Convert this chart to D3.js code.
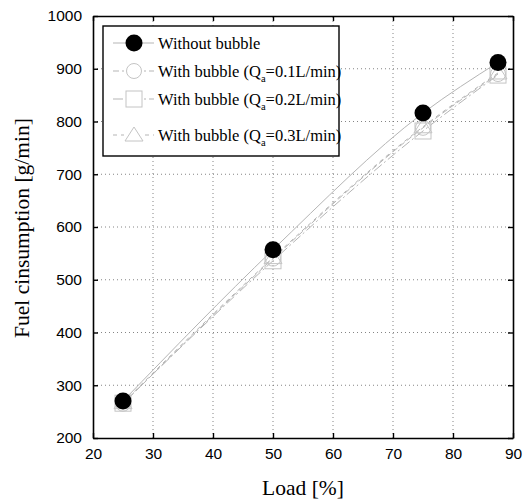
<!DOCTYPE html>
<html>
<head>
<meta charset="utf-8">
<script src="https://cdn.jsdelivr.net/npm/d3@7"></script>
<style>
  body { margin: 0; background: #fff; }
  svg { display: block; }
</style>
</head>
<body>
<div id="chart"></div>
<script>
// data
var loads = [25, 50, 75, 87.5];
var withoutBubble = [270, 557, 816, 912];
var bubble01 = [265, 540, 788, 890];
var bubble02 = [266, 536, 782, 888];
var bubble03 = [267, 542, 790, 892];
var xTicks = [20, 30, 40, 50, 60, 70, 80, 90];
var yTicks = [200, 300, 400, 500, 600, 700, 800, 900, 1000];

var seriesList = [
  { name: "Without bubble", values: withoutBubble, sym: "bigdot", dash: null },
  { name: "0.1", values: bubble01, sym: "circle", dash: "6,3" },
  { name: "0.2", values: bubble02, sym: "square", dash: "10,3,2,3" },
  { name: "0.3", values: bubble03, sym: "triangle", dash: "4,4" }
];

var width = 525, height = 504;
var margin = { left: 93, right: 12, top: 16, bottom: 66 };

var svg = d3.select('#chart')
  .append('svg')
  .attr('width', width)
  .attr('height', height);

var x = d3.scaleLinear().domain([20, 90]).range([margin.left, width - margin.right]);
var y = d3.scaleLinear().domain([200, 1000]).range([height - margin.bottom, margin.top]);

// grid
svg.append('g').selectAll('line')
  .data(xTicks.slice(1, -1))
  .enter().append('line')
  .attr('x1', d => x(d)).attr('x2', d => x(d))
  .attr('y1', y(200)).attr('y2', y(1000))
  .attr('stroke', '#666').attr('stroke-width', 0.8)
  .attr('stroke-dasharray', '1,3');
svg.append('g').selectAll('line')
  .data(yTicks.slice(1, -1))
  .enter().append('line')
  .attr('y1', d => y(d)).attr('y2', d => y(d))
  .attr('x1', x(20)).attr('x2', x(90))
  .attr('stroke', '#666').attr('stroke-width', 0.8)
  .attr('stroke-dasharray', '1,3');

// axes, ticks inside
var tickFont = "'Liberation Sans', Arial, sans-serif";
var fmt = d3.format('d');
var axB = svg.append('g')
  .attr('transform', 'translate(0,' + y(200) + ')')
  .call(d3.axisBottom(x).tickValues(xTicks).tickFormat(fmt).tickSizeInner(-5).tickSizeOuter(0).tickPadding(10));
var axL = svg.append('g')
  .attr('transform', 'translate(' + x(20) + ',0)')
  .call(d3.axisLeft(y).tickValues(yTicks).tickFormat(fmt).tickSizeInner(-5).tickSizeOuter(0).tickPadding(11));
var axT = svg.append('g')
  .attr('transform', 'translate(0,' + y(1000) + ')')
  .call(d3.axisTop(x).tickValues(xTicks).tickSizeInner(-5).tickSizeOuter(0).tickFormat(''));
var axR = svg.append('g')
  .attr('transform', 'translate(' + x(90) + ',0)')
  .call(d3.axisRight(y).tickValues(yTicks).tickSizeInner(-5).tickSizeOuter(0).tickFormat(''));

[axB, axL, axT, axR].forEach(function(g) {
  g.select('.domain').attr('stroke', '#000').attr('stroke-width', 1.6);
  g.selectAll('.tick line').attr('stroke', '#000').attr('stroke-width', 1.4);
  g.selectAll('.tick text').attr('fill', '#000').style('font-family', tickFont).style('font-size', '15.5px');
});

// lines
var line = d3.line()
  .x(function(d, i) { return x(loads[i]); })
  .y(function(d) { return y(d); })
  .curve(d3.curveMonotoneX);

seriesList.forEach(function(s) {
  svg.append('path')
    .attr('d', line(s.values))
    .attr('fill', 'none')
    .attr('stroke', '#b5b5b5')
    .attr('stroke-width', 1)
    .attr('stroke-dasharray', s.dash);
});

function drawSymbol(g, sym, cx, cy) {
  if (sym === 'bigdot') {
    g.append('circle').attr('cx', cx).attr('cy', cy).attr('r', 8.5).attr('fill', '#000');
  } else if (sym === 'circle') {
    g.append('circle').attr('cx', cx).attr('cy', cy).attr('r', 7.5)
      .attr('fill', 'none').attr('stroke', '#c4c4c4').attr('stroke-width', 1);
  } else if (sym === 'square') {
    g.append('rect').attr('x', cx - 8).attr('y', cy - 8).attr('width', 16).attr('height', 16)
      .attr('fill', 'none').attr('stroke', '#c4c4c4').attr('stroke-width', 1);
  } else {
    g.append('path')
      .attr('d', 'M' + cx + ',' + (cy - 8) + 'L' + (cx + 9) + ',' + (cy + 6) + 'L' + (cx - 9) + ',' + (cy + 6) + 'Z')
      .attr('fill', 'none').attr('stroke', '#c4c4c4').attr('stroke-width', 1);
  }
}

// markers, black dots on top
var markers = svg.append('g');
seriesList.slice(1).concat(seriesList.slice(0, 1)).forEach(function(s) {
  s.values.forEach(function(v, i) {
    drawSymbol(markers, s.sym, x(loads[i]), y(v));
  });
});

// legend
var serif = "'Liberation Serif', 'Times New Roman', serif";
var legend = svg.append('g');
legend.append('rect')
  .attr('x', 103).attr('y', 26).attr('width', 236).attr('height', 130)
  .attr('fill', '#fff').attr('stroke', '#000').attr('stroke-width', 1.4);
var rowY = [43, 71, 99, 135];
seriesList.forEach(function(s, i) {
  var ly = rowY[i];
  legend.append('line')
    .attr('x1', 113).attr('x2', 154).attr('y1', ly).attr('y2', ly)
    .attr('stroke', '#b5b5b5').attr('stroke-width', 1)
    .attr('stroke-dasharray', s.dash);
  if (s.sym !== 'bigdot') {
    legend.append('rect').attr('x', 124).attr('y', ly - 9).attr('width', 20).attr('height', 18).attr('fill', '#fff');
  }
  drawSymbol(legend, s.sym, 134, ly);
  var t = legend.append('text')
    .attr('x', 158).attr('y', ly + 5.5)
    .style('font-family', serif).style('font-size', '16.5px').attr('fill', '#000');
  if (i === 0) {
    t.text(s.name);
  } else {
    t.append('tspan').text('With bubble (Q');
    t.append('tspan').attr('dy', 5).style('font-size', '10.5px').text('a');
    t.append('tspan').attr('dy', -5).text('=' + s.name + 'L/min)');
  }
});

// axis titles
svg.append('text')
  .attr('x', x(55)).attr('y', 495)
  .attr('text-anchor', 'middle')
  .style('font-family', serif).style('font-size', '21.5px')
  .text('Load [%]');
svg.append('text')
  .attr('transform', 'translate(29,' + (y(600) + 1) + ') rotate(-90)')
  .attr('text-anchor', 'middle')
  .style('font-family', serif).style('font-size', '21.5px')
  .text('Fuel cinsumption [g/min]');
</script>
</body>
</html>
